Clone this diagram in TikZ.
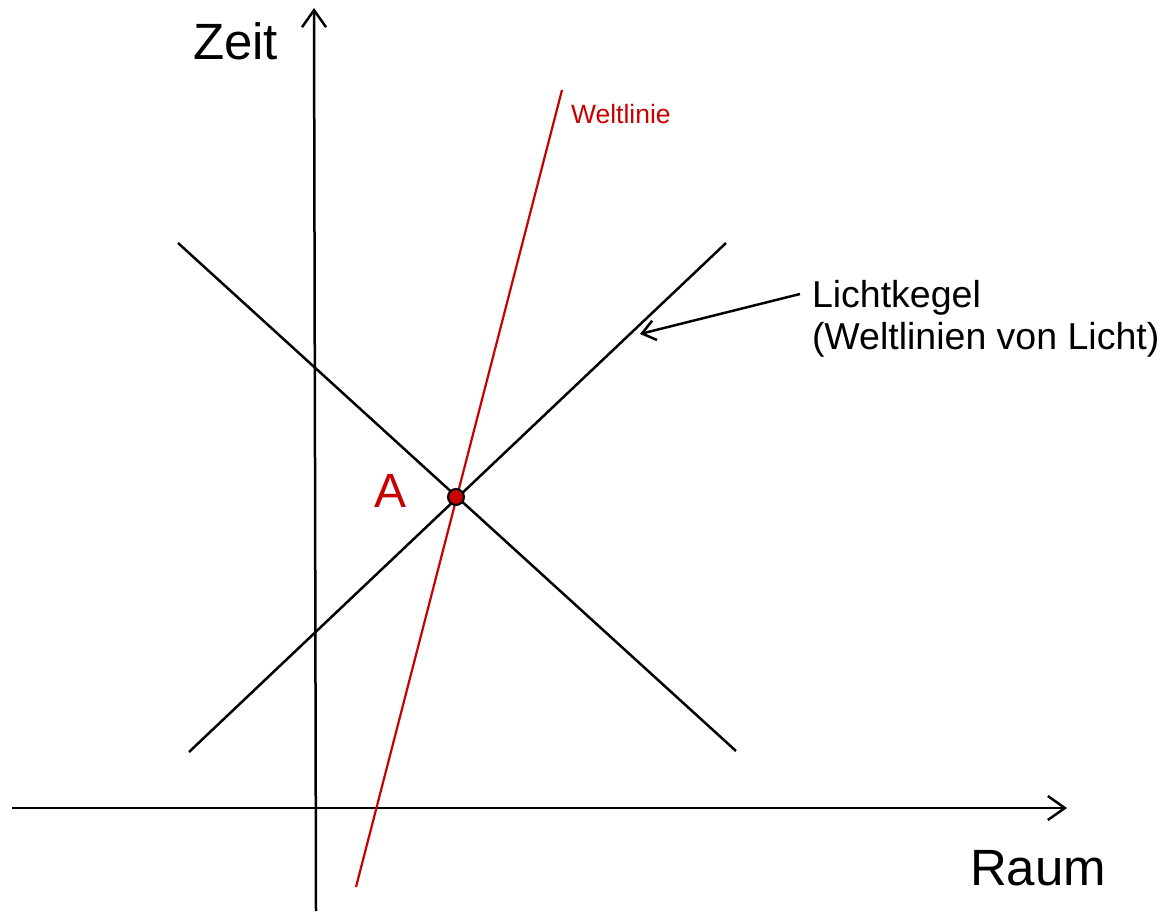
\documentclass[tikz,border=0pt]{standalone}
\usepackage{fontspec}
\setmainfont{Liberation Sans}
\usetikzlibrary{arrows.meta}
\definecolor{wred}{RGB}{200,0,0}
\begin{document}
\begin{tikzpicture}[x=1pt,y=-1pt,
  axis/.style={line width=2.5pt,-{Straight Barb[length=17pt,width=24pt,line width=2.5pt]}},
  cone/.style={line width=2.5pt},
  wline/.style={line width=2.2pt,draw=wred},
  lbl/.style={anchor=base west,inner sep=0pt,outer sep=0pt},
  event/.style={circle,fill=wred,draw=black,line width=2pt,minimum size=16pt,inner sep=0pt}]
\useasboundingbox (0,0) rectangle (1161,912);
% axes
\coordinate (tb) at (316,911);
\coordinate (tt) at (314,8);
\coordinate (xl) at (12,808);
\coordinate (xr) at (1067,808);
\draw[axis] (tb) -- (tt);
\draw[axis] (xl) -- (xr);
% light cone
\coordinate (c1a) at (178,243);
\coordinate (c1b) at (736,751);
\coordinate (c2a) at (189,752);
\coordinate (c2b) at (726,243);
\draw[cone] (c1a) -- (c1b);
\draw[cone] (c2a) -- (c2b);
% world line
\coordinate (wa) at (356,887);
\coordinate (wb) at (562,90);
\draw[wline] (wa) -- (wb);
% event A
\node[event] (A) at (456,497) {};
\node[lbl,text=wred,font=\fontsize{48}{56}\selectfont] (Alab) at (374,507) {A};
% labels
\node[lbl,font=\fontsize{51}{60}\selectfont] (zeit) at (193,60) {Zeit};
\node[lbl,font=\fontsize{51}{60}\selectfont] (raum) at (970,885) {Raum};
\node[lbl,text=wred,font=\fontsize{26.5}{30}\selectfont] (welt) at (571,124) {Weltlinie};
\node[lbl,align=left,font=\fontsize{37.5}{42}\selectfont] (licht) at (812,349) {Lichtkegel\\(Weltlinien von Licht)};
\coordinate (ls) at (800,294);
\coordinate (le) at (640,334);
\draw[line width=2.5pt,-{Straight Barb[length=13pt,width=20pt,line width=2.5pt]}] (ls) -- (le);
\end{tikzpicture}
\end{document}
